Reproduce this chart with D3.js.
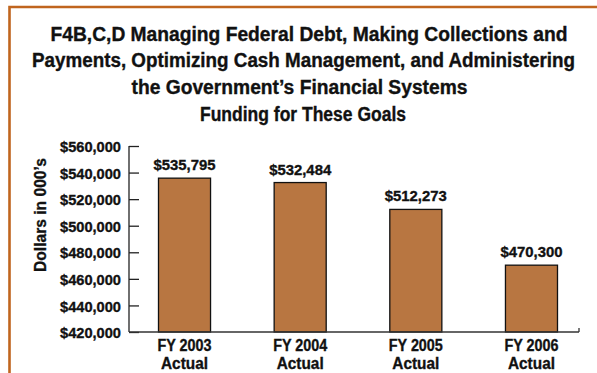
<!DOCTYPE html>
<html>
<head>
<meta charset="utf-8">
<script src="https://cdn.jsdelivr.net/npm/d3@7"></script>
<style>
  html, body { margin: 0; padding: 0; background: #fff; }
  svg { display: block; }
  text { font-family: "Liberation Sans Narrow", "Liberation Sans", Arial, sans-serif; font-weight: bold; fill: #111; stroke: #111; stroke-width: 0.35px; }
</style>
</head>
<body>
<svg id="chart" width="597" height="373"></svg>
<script>
const titleLines = [
  "F4B,C,D Managing Federal Debt, Making Collections and",
  "Payments, Optimizing Cash Management, and Administering",
  "the Government\u2019s Financial Systems",
  "Funding for These Goals"
];
const categories = ["FY 2003", "FY 2004", "FY 2005", "FY 2006"];
const subLabels = ["Actual", "Actual", "Actual", "Actual"];
const values = [535795, 532484, 512273, 470300];
const yTicks = [420000, 440000, 460000, 480000, 500000, 520000, 540000, 560000];
const yAxisTitle = "Dollars in 000\u2019s";

// layout (measured from reference)
const titleCx = [309, 303.5, 299.5, 303];
const titleW = [517, 543, 336, 206];

const svg = d3.select("#chart");

// frame (orange border, top and left visible)
svg.append("path")
  .attr("d", "M9.5,380 L9.5,7 L610,7")
  .attr("fill", "none")
  .attr("stroke", "#C0651E")
  .attr("stroke-width", 2.6);

// title
titleLines.forEach((t, i) => {
  svg.append("text")
    .attr("x", titleCx[i]).attr("y", 40.5 + i * 26.8)
    .attr("text-anchor", "middle")
    .attr("textLength", titleW[i]).attr("lengthAdjust", "spacingAndGlyphs")
    .style("font-size", "19.5px")
    .text(t);
});

const y = d3.scaleLinear().domain([420000, 560000]).range([332, 146]);
const x = d3.scaleBand().domain(categories).range([158.5, 557.5]).paddingInner(0.55).paddingOuter(0);

const fmt = v => "$" + d3.format(",")(v);

// y axis
const yAxis = d3.axisLeft(y).tickValues(yTicks).tickSize(-10).tickPadding(8).tickFormat(fmt);
const gy = svg.append("g").attr("transform", "translate(129,0)").call(yAxis);
gy.attr("font-family", null).attr("font-size", null);
gy.select(".domain").remove();
gy.selectAll(".tick line").attr("stroke", "#222").attr("stroke-width", 1.3);
gy.selectAll(".tick text").style("font-size", "15.5px").attr("fill", "#111")
  .attr("x", -8).attr("dy", "0.36em")
  .attr("textLength", 61).attr("lengthAdjust", "spacingAndGlyphs");
svg.append("line").attr("x1", 129).attr("x2", 129).attr("y1", y(560000)).attr("y2", y(420000))
  .attr("stroke", "#222").attr("stroke-width", 1.3);

// y axis title
svg.append("text")
  .attr("transform", "translate(45.5,215) rotate(-90)")
  .attr("text-anchor", "middle")
  .attr("textLength", 114).attr("lengthAdjust", "spacingAndGlyphs")
  .style("font-size", "16px")
  .text(yAxisTitle);

// bars
svg.selectAll("rect.bar").data(values).enter().append("rect")
  .attr("class", "bar")
  .attr("x", (d, i) => x(categories[i]))
  .attr("width", x.bandwidth())
  .attr("y", d => y(d))
  .attr("height", d => y(420000) - y(d))
  .attr("fill", "#B87641")
  .attr("stroke", "#111")
  .attr("stroke-width", 1.3);

// value labels
svg.selectAll("text.val").data(values).enter().append("text")
  .attr("class", "val")
  .attr("text-anchor", "middle")
  .attr("x", (d, i) => x(categories[i]) + x.bandwidth() / 2)
  .attr("y", d => y(d) - 8)
  .attr("textLength", 62).attr("lengthAdjust", "spacingAndGlyphs")
  .style("font-size", "15px")
  .text(fmt);

// x axis line
svg.append("line").attr("x1", 129).attr("x2", 579).attr("y1", y(420000)).attr("y2", y(420000))
  .attr("stroke", "#333").attr("stroke-width", 1.3);
svg.append("line").attr("x1", 579).attr("x2", 579).attr("y1", y(420000) - 4).attr("y2", y(420000))
  .attr("stroke", "#333").attr("stroke-width", 1.3);

// category labels
categories.forEach((c, i) => {
  const cx = x(c) + x.bandwidth() / 2;
  svg.append("text").attr("text-anchor", "middle").attr("x", cx).attr("y", 350.5)
    .attr("textLength", 54).attr("lengthAdjust", "spacingAndGlyphs")
    .style("font-size", "16px").text(c);
  svg.append("text").attr("text-anchor", "middle").attr("x", cx).attr("y", 369)
    .attr("textLength", 47).attr("lengthAdjust", "spacingAndGlyphs")
    .style("font-size", "16.5px").text(subLabels[i]);
});
</script>
</body>
</html>
